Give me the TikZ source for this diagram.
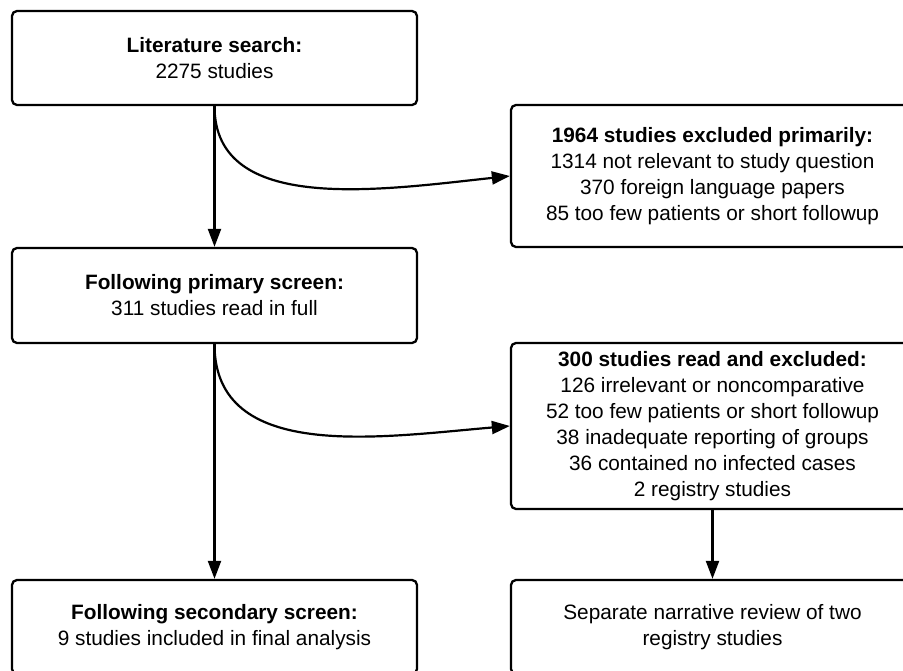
\documentclass[tikz,border=0pt]{standalone}
\usepackage{fontspec}
\setmainfont{Liberation Sans}
\usetikzlibrary{arrows.meta}
\begin{document}
\begin{tikzpicture}[x=1pt,y=-1pt,
  box/.style={draw=black, line width=2.3pt, rounded corners=5pt, align=center,
    inner sep=0pt, font=\fontsize{20.8}{26}\selectfont},
  arr/.style={line width=2.2pt, -{Triangle[length=18pt,width=13pt]}}]
\useasboundingbox (0,0) rectangle (903,671);
\clip (0,0) rectangle (903,671);
\node[box, minimum width=405pt, minimum height=94pt] (lit) at (214.5,58)
  {\textbf{Literature search:}\\2275 studies};
\node[box, minimum width=403pt, minimum height=142pt] (exc1) at (712.5,176)
  {\textbf{1964 studies excluded primarily:}\\1314 not relevant to study question\\370 foreign language papers\\85 too few patients or short followup};
\node[box, minimum width=405pt, minimum height=95pt] (prim) at (214.5,295.5)
  {\textbf{Following primary screen:}\\311 studies read in full};
\node[box, minimum width=403pt, minimum height=166pt] (exc2) at (712.5,426)
  {\textbf{300 studies read and excluded:}\\126 irrelevant or noncomparative\\52 too few patients or short followup\\38 inadequate reporting of groups\\36 contained no infected cases\\2 registry studies};
\node[box, minimum width=405pt, minimum height=94pt] (sec) at (214.5,627)
  {\textbf{Following secondary screen:}\\9 studies included in final analysis};
\node[box, minimum width=403pt, minimum height=94pt] (sep) at (712.5,627)
  {Separate narrative review of two\\registry studies};
\draw[arr] (lit.south) -- (prim.north);
\draw[arr] (lit.south) .. controls (214.5,215) and (380,190) .. (exc1.west);
\draw[arr] (prim.south) -- (sec.north);
\draw[arr] (prim.south) .. controls (214.5,463) and (380,437) .. (exc2.west);
\draw[arr] (exc2.south) -- (sep.north);
\end{tikzpicture}
\end{document}
